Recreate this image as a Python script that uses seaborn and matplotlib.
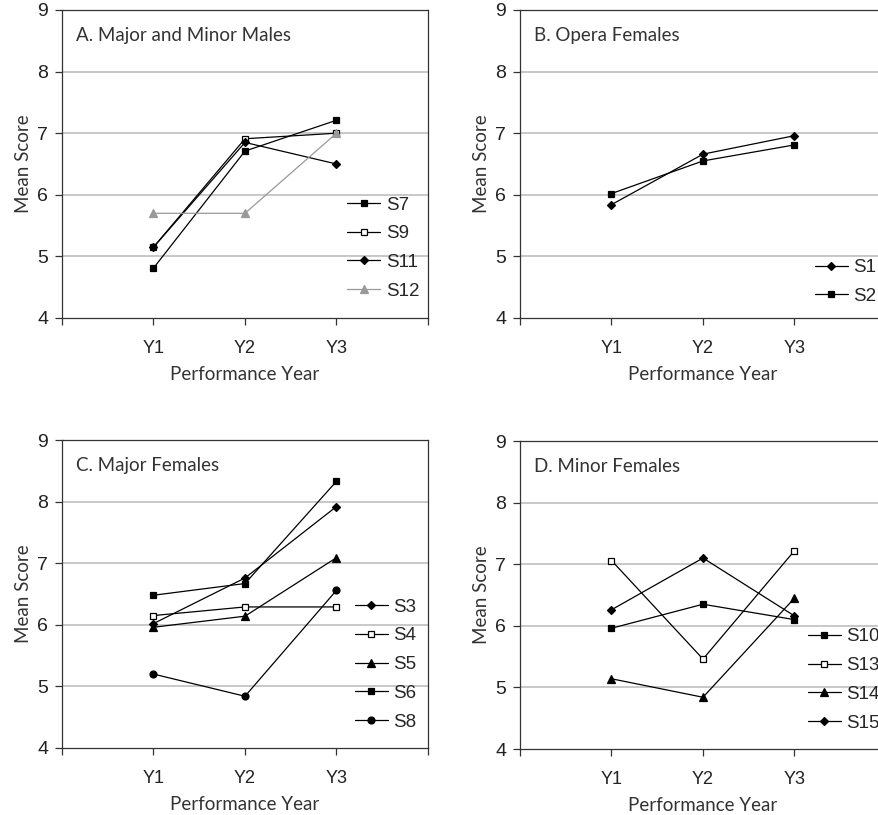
import pandas as pd
import matplotlib
matplotlib.use('Agg')
import matplotlib.pyplot as plt
import seaborn as sns

sns.set_style('white')
plt.rcParams['font.family'] = ['Liberation Sans', 'DejaVu Sans']

years = ['Y1', 'Y2', 'Y3']

# Panel A: Major and Minor Males
a_subjects = ['S7', 'S9', 'S11', 'S12']
a_values = [
    [4.81, 6.71, 7.21],
    [5.15, 6.91, 7.00],
    [5.15, 6.85, 6.50],
    [5.70, 5.70, 7.00],
]

# Panel B: Opera Females
b_subjects = ['S1', 'S2']
b_values = [
    [5.84, 6.66, 6.96],
    [6.02, 6.55, 6.81],
]

# Panel C: Major Females
c_subjects = ['S3', 'S4', 'S5', 'S6', 'S8']
c_values = [
    [6.02, 6.76, 7.92],
    [6.15, 6.29, 6.29],
    [5.96, 6.14, 7.09],
    [6.48, 6.67, 8.33],
    [5.20, 4.84, 6.56],
]

# Panel D: Minor Females
d_subjects = ['S10', 'S13', 'S14', 'S15']
d_values = [
    [5.96, 6.35, 6.10],
    [7.06, 5.46, 7.22],
    [5.14, 4.84, 6.45],
    [6.26, 7.10, 6.16],
]

# marker style per subject: (marker, facecolor, line color, size)
styles = {
    'S1': ('D', 'black', 'black', 4.2),
    'S2': ('s', 'black', 'black', 5),
    'S3': ('D', 'black', 'black', 4.2),
    'S4': ('s', 'white', 'black', 5),
    'S5': ('^', 'black', 'black', 6),
    'S6': ('s', 'black', 'black', 5),
    'S7': ('s', 'black', 'black', 5),
    'S8': ('o', 'black', 'black', 5),
    'S9': ('s', 'white', 'black', 5),
    'S10': ('s', 'black', 'black', 5),
    'S11': ('D', 'black', 'black', 4.2),
    'S12': ('^', '#999999', '#999999', 6),
    'S13': ('s', 'white', 'black', 5),
    'S14': ('^', 'black', 'black', 6),
    'S15': ('D', 'black', 'black', 4.2),
}

W, H = 879, 815
fig = plt.figure(figsize=(W / 100, H / 100), dpi=100)

title_font = ['Lato', 'DejaVu Sans']

panels = [
    # left, top px, title, subjects, values, legend anchor
    (62, 10, 'A. Major and Minor Males', a_subjects, a_values, (0.78, 0.227)),
    (520, 10, 'B. Opera Females', b_subjects, b_values, (0.806, 0.117)),
    (62, 440, 'C. Major Females', c_subjects, c_values, (0.80, 0.271)),
    (520, 441, 'D. Minor Females', d_subjects, d_values, (0.787, 0.224)),
]

for left, top, title, subjects, values, anchor in panels:
    ax = fig.add_axes([left / W, 1 - (top + 308) / H, 366 / W, 308 / H])
    for subj, vals in zip(subjects, values):
        mk, fc, col, ms = styles[subj]
        df = pd.DataFrame({'pos': [1, 2, 3], 'score': vals})
        sns.lineplot(data=df, x='pos', y='score', ax=ax, color=col, lw=0.9,
                     marker=mk, markersize=ms, markerfacecolor=fc,
                     markeredgecolor=col, markeredgewidth=0.9, label=subj)
    ax.set_xlim(0, 4)
    ax.set_ylim(4, 9)
    ax.set_xticks([0, 1, 2, 3, 4])
    ax.set_xticklabels([''] + years + [''])
    ax.set_yticks([4, 5, 6, 7, 8, 9])
    for yv in [5, 6, 7, 8]:
        ax.axhline(yv, color='#c4c4c4', lw=1.3, zorder=0)
    ax.tick_params(axis='both', direction='out', length=5, width=0.9,
                   color='#333333', labelcolor='#222222',
                   left=True, bottom=True)
    ax.tick_params(axis='x', pad=11, labelsize=13)
    ax.tick_params(axis='y', pad=5, labelsize=14)
    for sp in ax.spines.values():
        sp.set_color('#333333')
        sp.set_linewidth(0.9)
    ax.set_xlabel('Performance Year', fontsize=13.5, family=title_font,
                  color='#333333', labelpad=6)
    ax.set_ylabel('Mean Score', fontsize=13.5, family=title_font,
                  color='#333333', labelpad=4)
    ax.text(0.038, 0.917, title, transform=ax.transAxes, ha='left', va='center',
            fontsize=13.5, family=title_font, color='#333333')
    ax.legend(loc='center left', bbox_to_anchor=anchor, frameon=False,
              fontsize=13.5, handlelength=1.75, handletextpad=0.3,
              labelspacing=0.62, borderpad=0, borderaxespad=0)

fig.savefig('out.png', dpi=100)
